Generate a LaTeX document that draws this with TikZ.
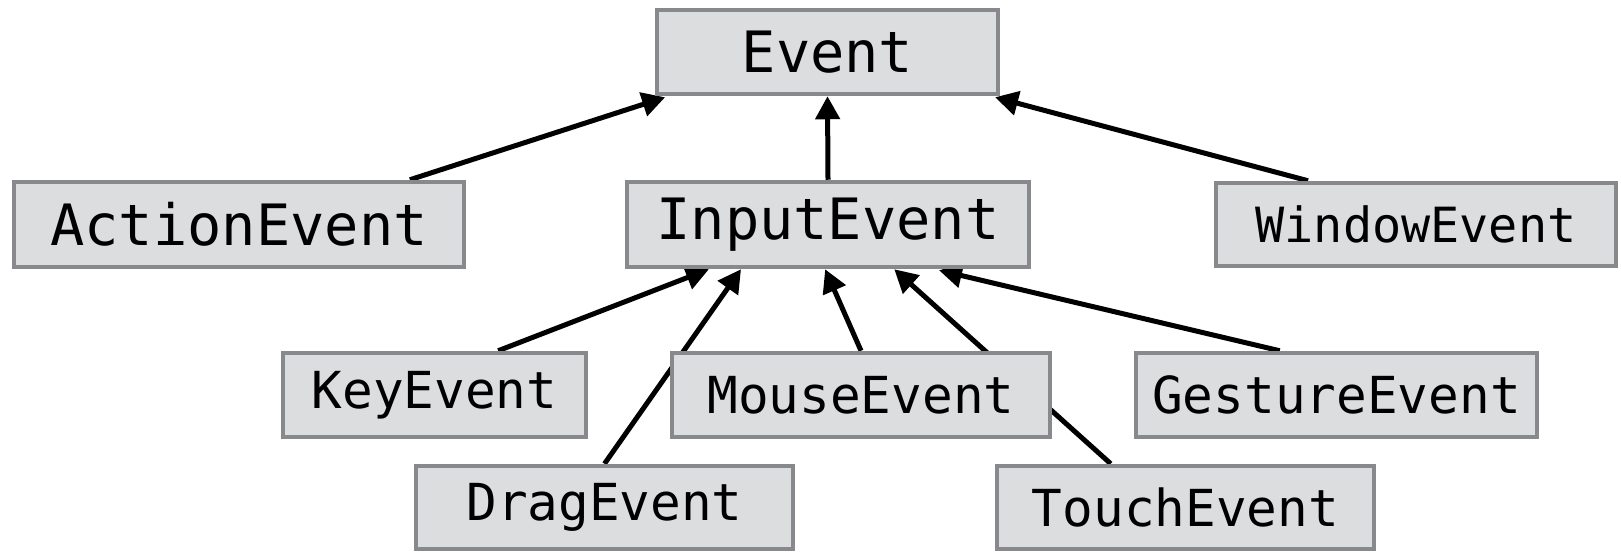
\documentclass[tikz,border=0pt]{standalone}
\usepackage{fontspec}
\setmonofont{DejaVu Sans Mono}
\usetikzlibrary{arrows.meta,calc,backgrounds}
\definecolor{boxfill}{HTML}{DCDDDF}
\definecolor{boxborder}{HTML}{88898D}
\begin{document}
\begin{tikzpicture}[x=1pt,y=-1pt,
  cls/.style={draw=boxborder, fill=boxfill, line width=4.5pt, inner sep=0pt,
    font=\ttfamily\fontsize{51}{51}\selectfont},
  bigtext/.style={font=\ttfamily\fontsize{57}{57}\selectfont},
  smalltext/.style={font=\ttfamily\fontsize{48.5}{48.5}\selectfont},
  link/.style={line width=5pt, -{Triangle[length=23pt,width=24pt]}}]
\useasboundingbox (0,0) rectangle (1621,553);

\node[cls, bigtext, minimum width=341pt, minimum height=84pt] (ev) at (827.5,52) {Event};
\node[cls, bigtext, minimum width=450pt, minimum height=85pt] (ae) at (239,224.5) {ActionEvent};
\node[cls, bigtext, minimum width=402pt, minimum height=85pt] (ie) at (828,224.5) {InputEvent};
\node[cls, smalltext, minimum width=400pt, minimum height=83pt] (we) at (1416,224.5) {WindowEvent};
\node[cls, minimum width=303pt, minimum height=84pt] (ke) at (434.5,395) {KeyEvent};
\node[cls, minimum width=378pt, minimum height=84pt] (me) at (861,395) {MouseEvent};
\node[cls, minimum width=401pt, minimum height=84pt] (ge) at (1336.5,395) {GestureEvent};
\node[cls, minimum width=377pt, minimum height=83pt] (de) at (604.5,507.5) {DragEvent};
\node[cls, minimum width=377pt, minimum height=83pt] (te) at (1185.5,507.5) {TouchEvent};

\begin{scope}[on background layer]
\draw[link] ($(ae.north west)!0.876!(ae.north east)$) -- ([yshift=-1pt]$(ev.south west)!0.03!(ev.south east)$);
\draw[link] (ie.north) -- (ev.south);
\draw[link] ($(we.north west)!0.233!(we.north east)$) -- ([yshift=-1pt]$(ev.south west)!0.985!(ev.south east)$);
\draw[link] ($(ke.north west)!0.707!(ke.north east)$) -- ($(ie.south west)!0.207!(ie.south east)$);
\draw[link] (de.north) -- ($(ie.south west)!0.286!(ie.south east)$);
\draw[link] (me.north) -- ($(ie.south west)!0.493!(ie.south east)$);
\draw[link] ($(te.north west)!0.304!(te.north east)$) -- ($(ie.south west)!0.663!(ie.south east)$);
\draw[link] ($(ge.north west)!0.36!(ge.north east)$) -- ([yshift=-1pt]$(ie.south west)!0.773!(ie.south east)$);
\end{scope}
\end{tikzpicture}
\end{document}
